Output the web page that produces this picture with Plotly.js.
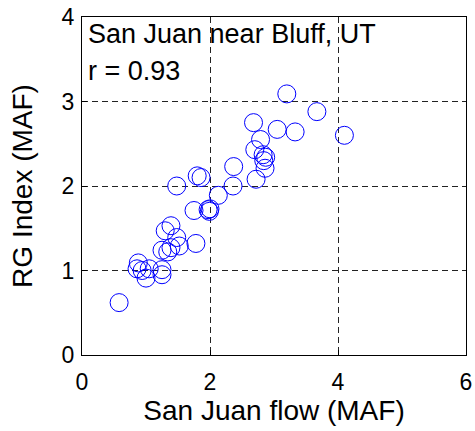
<!DOCTYPE html>
<html><head><meta charset="utf-8">
<script src="https://cdn.plot.ly/plotly-3.0.1.min.js"></script>
<style>html,body{margin:0;padding:0;background:#fff}#c{width:475px;height:431px}</style>
</head><body><div id="c"></div>
<script>
const flow = [0.58,0.88,0.86,0.94,1.05,1.00,1.25,1.25,1.25,1.34,1.39,1.30,1.39,1.48,1.52,1.78,1.48,1.80,1.86,1.75,1.97,1.99,2.00,2.13,2.36,2.37,2.72,2.86,2.84,2.87,2.83,2.70,2.79,2.68,3.05,3.33,3.20,3.67,4.10];
const rgIndex = [0.62,1.09,1.02,1.00,1.02,0.91,1.01,0.95,1.24,1.22,1.27,1.47,1.53,1.39,1.29,1.32,2.00,2.12,2.10,1.71,1.72,1.70,1.73,1.89,2.00,2.23,2.08,2.21,2.30,2.34,2.37,2.43,2.55,2.75,2.67,2.64,3.09,2.88,2.60];
const xTicks = [0,2,4,6];
const yTicks = [0,1,2,3,4];
const labelText = "San Juan near Bluff, UT";
const rText = "r = 0.93";

const fam = "Liberation Sans, Arial, sans-serif";
const tickFont = {family:fam, size:23, color:"#000"};
const titleFont = {family:fam, size:28, color:"#000"};
const annFont = {family:fam, size:27, color:"#000"};
const trace = {x:flow, y:rgIndex, type:"scatter", mode:"markers",
  marker:{symbol:"circle-open", size:18, color:"#0000ff", line:{width:1, color:"#0000ff"}}};
const ax = {showline:true, mirror:true, linecolor:"#000", linewidth:1, ticks:"inside", ticklen:5, tickcolor:"#000",
  showgrid:true, gridcolor:"#222", griddash:"6px,4px", gridwidth:1, zeroline:false, tickfont:tickFont};
const layout = {
  width:475, height:431, margin:{l:82, r:9, t:17, b:76},
  paper_bgcolor:"#fff", plot_bgcolor:"#fff", showlegend:false,
  xaxis:Object.assign({}, ax, {range:[0,6], tickvals:xTicks, ticktext:xTicks.map(String), ticklabelstandoff:6,
    title:{text:"San Juan flow (MAF)", font:titleFont, standoff:5}}),
  yaxis:Object.assign({}, ax, {range:[0,4], tickvals:yTicks, ticktext:yTicks.map(String), ticklabelstandoff:2,
    title:{text:"RG Index (MAF)", font:titleFont, standoff:20}}),
  annotations:[
    {xref:"paper", yref:"paper", x:0.01, y:1.0, xanchor:"left", yanchor:"top", text:labelText, showarrow:false, font:annFont},
    {xref:"paper", yref:"paper", x:0.01, y:0.89, xanchor:"left", yanchor:"top", text:rText, showarrow:false, font:annFont}
  ]
};
Plotly.newPlot("c", [trace], layout, {staticPlot:true, displayModeBar:false});
</script></body></html>
